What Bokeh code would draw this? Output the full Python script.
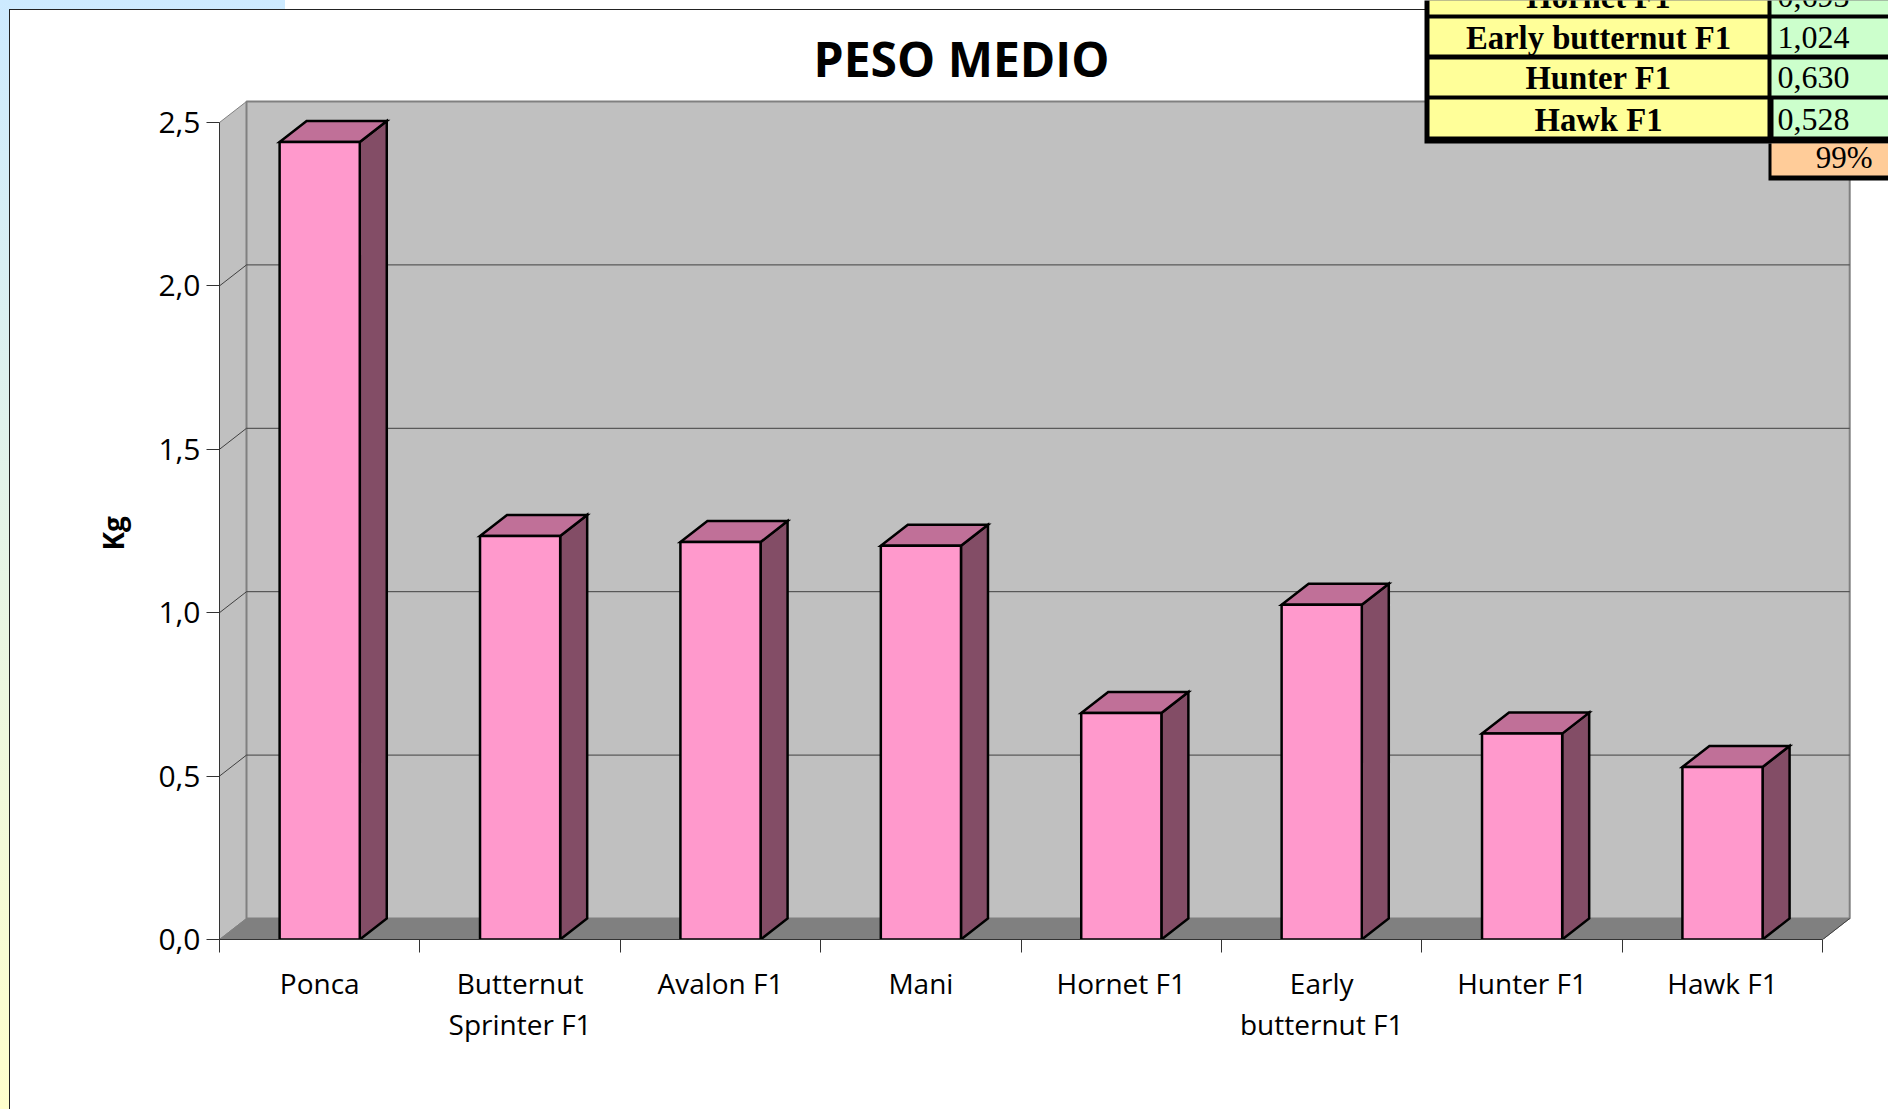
from bokeh.plotting import figure
from bokeh.models import Range1d, FixedTicker, Label, LinearAxis, Title
from bokeh.core.properties import value
from bokeh.embed import file_html
from bokeh.resources import INLINE

categories = ["Ponca", "Butternut\nSprinter F1", "Avalon F1", "Mani", "Hornet F1",
              "Early\nbutternut F1", "Hunter F1", "Hawk F1"]
peso_medio = [2.44, 1.235, 1.216, 1.205, 0.693, 1.024, 0.630, 0.528]
y_ticks = [0.0, 0.5, 1.0, 1.5, 2.0, 2.5]
y_tick_labels = ["0,0", "0,5", "1,0", "1,5", "2,0", "2,5"]
title_text = "PESO MEDIO"
y_title = "Kg"
table_names = ["Hornet F1", "Early butternut F1", "Hunter F1", "Hawk F1"]
table_values = ["0,693", "1,024", "0,630", "0,528"]
table_total = "99%"

W, H = 1888, 1109
LEFT, BASE = 219, 939
UX, UY = 200.4, 326.8          # pixels per category / per kg
DX, DY = 27 / UX, 21 / UY      # depth of the 3-D projection
BAR_HALF = 0.2
FONT = "Open Sans"

p = figure(width=W, height=H, output_backend="svg", toolbar_location=None,
           x_range=Range1d(0, (W - LEFT) / UX), y_range=Range1d(0, BASE / UY),
           x_axis_type=None, y_axis_type=None,
           min_border_left=LEFT, min_border_right=0, min_border_top=0, min_border_bottom=H - BASE)
p.grid.visible = False
p.outline_line_color = None
p.background_fill_alpha = 0
p.border_fill_alpha = 0
p.extra_x_ranges["px"] = Range1d(LEFT, W)
p.extra_y_ranges["px"] = Range1d(BASE, 0)

n = len(categories)
top = y_ticks[-1]
GREY = "#808080"
# walls and floor
p.patch([0, DX, DX, 0], [0, DY, top + DY, top], fill_color="#c0c0c0", line_color=GREY, line_width=1)
p.patch([DX, n + DX, n + DX, DX], [DY, DY, top + DY, top + DY], fill_color="#c0c0c0",
        line_color=GREY, line_width=2)
p.patch([0, n, n + DX, DX], [0, 0, DY, DY], fill_color=GREY, line_color=GREY, line_width=1)
# gridlines
for v in y_ticks[1:-1]:
    p.line([0, DX, n + DX], [v, v + DY, v + DY], line_color="#404040", line_width=1)
p.line([n, n + DX], [0, DY], line_color="#404040", line_width=1)

# bars
for i, v in enumerate(peso_medio):
    x0, x1 = i + 0.5 - BAR_HALF, i + 0.5 + BAR_HALF
    p.patch([x1, x1 + DX, x1 + DX, x1], [0, DY, v + DY, v], fill_color="#834d66",
            line_color="black", line_width=2.5, line_join="miter")
    p.patch([x0, x1, x1 + DX, x0 + DX], [v, v, v + DY, v + DY], fill_color="#c07098",
            line_color="black", line_width=2.5, line_join="miter")
    p.quad(left=[x0], right=[x1], bottom=[0], top=[v], fill_color="#ff99cc",
           line_color="black", line_width=2.5)

# axes
xa = LinearAxis(ticker=FixedTicker(ticks=[i + 0.5 for i in range(n)], minor_ticks=list(range(n + 1))),
                bounds=(0, n))
xa.major_label_overrides = {i + 0.5: c for i, c in enumerate(categories)}
xa.major_tick_out = 0
xa.major_tick_in = 0
xa.minor_tick_out = 13
xa.minor_tick_in = 0
xa.minor_tick_line_color = "#333333"
xa.axis_line_color = "#333333"
xa.major_label_standoff = 11
xa.major_label_text_font = FONT
xa.major_label_text_font_size = "28px"
xa.major_label_text_color = "black"
xa.major_label_text_line_height = 1.09
xa.major_label_orientation = "horizontal"
p.add_layout(xa, "below")

ya = LinearAxis(ticker=FixedTicker(ticks=y_ticks), bounds=(0, top))
ya.major_label_overrides = dict(zip(y_ticks, y_tick_labels))
ya.major_tick_out = 13
ya.major_tick_in = 0
ya.minor_tick_line_color = None
ya.major_tick_line_color = "#333333"
ya.axis_line_color = "#333333"
ya.major_label_standoff = 6
ya.major_label_text_font = FONT
ya.major_label_text_font_size = "30px"
ya.major_label_text_color = "black"
p.add_layout(ya, "left")

# titles
p.add_layout(Label(x=961, y=58, x_range_name="px", y_range_name="px", text=title_text,
                   text_font=FONT, text_font_size="48px", text_font_style="bold",
                   text_align="center", text_baseline="middle", text_color="black"))
p.add_layout(Title(text=y_title, text_font=FONT, text_font_size="28px", text_font_style="bold",
                   text_color="black", align="left", offset=389, standoff=47), "left")

# table pasted over the chart's corner
px = dict(x_range_name="px", y_range_name="px")
row_tops = [-30, 18, 59, 99]
row_bots = [14, 54, 95, 136]
row_mids = [-4, 37, 77, 119]
p.quad(left=[1424], right=[W + 5], top=[-30], bottom=[143], fill_color="black", line_color=None, **px)
p.quad(left=[1768], right=[W + 5], top=[143], bottom=[180], fill_color="black", line_color=None, **px)
for i in range(4):
    p.quad(left=[1429], right=[1767], top=[row_tops[i]], bottom=[row_bots[i]],
           fill_color="#ffff99", line_color=None, **px)
    p.quad(left=[1773 if i == 3 else 1771], right=[W + 5], top=[row_tops[i]], bottom=[row_bots[i]],
           fill_color="#ccffcc", line_color=None, **px)
p.quad(left=[1771], right=[W + 5], top=[143], bottom=[175], fill_color="#ffcc99", line_color=None, **px)
p.text(x=[1598] * 4, y=row_mids, text=table_names, text_font=value("Liberation Serif"),
       text_font_size="32.7px", text_font_style="bold", text_align="center",
       text_baseline="middle", text_color="black", **px)
p.text(x=[1777] * 4, y=row_mids, text=table_values, text_font=value("Liberation Serif"),
       text_font_size="32px", text_align="left", text_baseline="middle", text_color="black", **px)
p.text(x=[1872], y=[157], text=[table_total], text_font=value("Liberation Serif"),
       text_font_size="31px", text_align="right", text_baseline="middle", text_color="black", **px)

css = ("<style>html,body{margin:0;padding:0;overflow:hidden;}"
       "html{background:"
       "linear-gradient(#fff,#fff) 10px 10px/100% 100% no-repeat,"
       "linear-gradient(#222,#222) 9px 9px/100% 100% no-repeat,"
       "linear-gradient(#cdeaff,#ffffcc) 0 0/285px 100% no-repeat,#fff;}"
       "body{background:transparent;}</style>")
html = file_html(p, INLINE).replace("<head>", "<head>" + css, 1)
open("out.html", "w").write(html)
